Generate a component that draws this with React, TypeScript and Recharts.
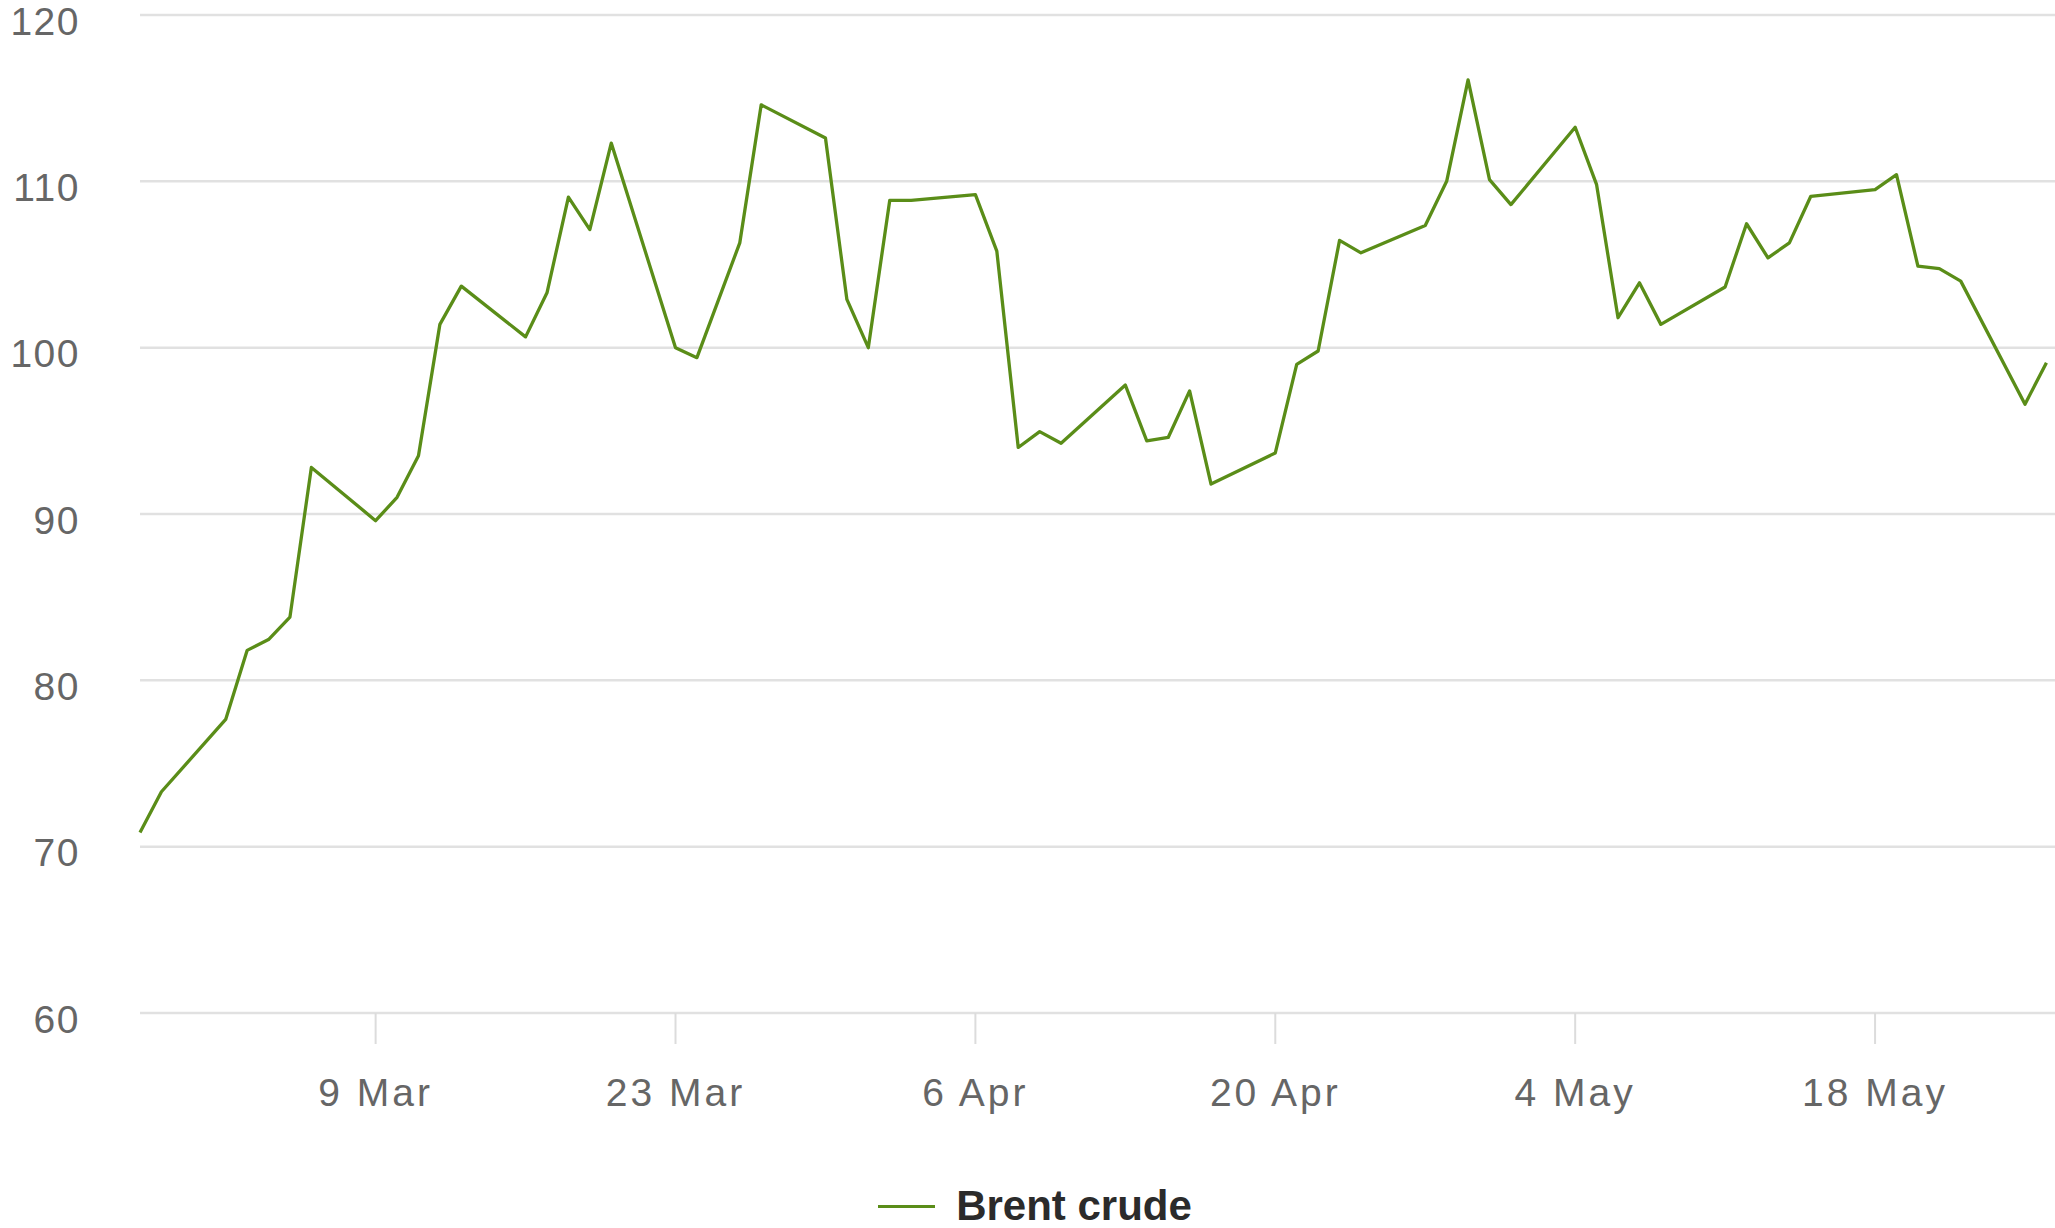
import { LineChart, Line, XAxis, YAxis, CartesianGrid, Legend } from "recharts";

const FONT = "'Liberation Sans', Arial, sans-serif";
const GREEN = "#5a8d18";

// trading days counted from Thu 26 Feb
const days = [
  0, 1, 4, 5, 6, 7, 8, 11, 12, 13, 14, 15, 18, 19, 20, 21, 22, 25, 26, 28, 29,
  32, 33, 34, 35, 36, 39, 40, 41, 42, 43, 46, 47, 48, 49, 50, 53, 54, 55, 56,
  57, 60, 61, 62, 63, 64, 67, 68, 69, 70, 71, 74, 75, 76, 77, 78, 81, 82, 83,
  84, 85, 88, 89,
];

// Brent crude, $ a barrel
const brent = [
  70.85, 73.3, 77.65, 81.8, 82.45, 83.8, 92.8, 89.6, 91.0, 93.5, 101.4, 103.7,
  100.65, 103.3, 109.05, 107.1, 112.3, 100.0, 99.4, 106.3, 114.6, 112.6, 102.9,
  100.0, 108.85, 108.85, 109.2, 105.8, 94.0, 94.95, 94.25, 97.75, 94.4, 94.6,
  97.4, 91.8, 93.67, 99.0, 99.8, 106.45, 105.7, 107.35, 110.0, 116.1, 110.1,
  108.6, 113.25, 109.8, 101.8, 103.9, 101.4, 103.65, 107.45, 105.4, 106.3,
  109.1, 109.5, 110.4, 104.9, 104.75, 104.0, 96.6, 99.1,
];

const tickDays = [11, 25, 39, 53, 67, 81];
const tickLabels = ["9 Mar", "23 Mar", "6 Apr", "20 Apr", "4 May", "18 May"];
const yTicks = [60, 70, 80, 90, 100, 110, 120];

const data = days.map((day, i) => ({ day, brent: brent[i] }));

const XTick = ({ x, y, payload }: any) => (
  <text
    x={x}
    y={y}
    dy={62}
    textAnchor="middle"
    fill="#666"
    fontSize={39}
    letterSpacing={3}
    fontFamily={FONT}
  >
    {tickLabels[tickDays.indexOf(payload.value)]}
  </text>
);

const YTick = ({ x, y, payload }: any) => (
  <text
    x={x}
    y={y}
    dy={19.5}
    textAnchor="end"
    fill="#666"
    fontSize={39}
    letterSpacing={1.5}
    fontFamily={FONT}
  >
    {payload.value}
  </text>
);

const LegendContent = () => (
  <div
    style={{
      display: "flex",
      justifyContent: "center",
      alignItems: "center",
      height: 44,
      paddingLeft: 15,
    }}
  >
    <span
      style={{ width: 57, height: 3, background: GREEN, marginRight: 21 }}
    />
    <span
      style={{
        fontSize: 42,
        fontWeight: 700,
        color: "#2b2b2b",
        lineHeight: "44px",
        fontFamily: FONT,
      }}
    >
      Brent crude
    </span>
  </div>
);

export default function App() {
  return (
    <div style={{ width: 2055, height: 1228, overflow: "hidden" }}>
      <style>{"body{margin:0;overflow:hidden;background:#fff}"}</style>
      <LineChart
        width={2055}
        height={1228}
        data={data}
        margin={{ top: 15, right: 0, bottom: 115, left: 0 }}
      >
        <CartesianGrid vertical={false} stroke="#e1e1e1" strokeWidth={2.5} />
        <XAxis
          type="number"
          dataKey="day"
          domain={[0, 89.4]}
          ticks={tickDays}
          interval={0}
          height={100}
          axisLine={false}
          tickLine={{ stroke: "#dcdcdc", strokeWidth: 2 }}
          tickSize={31}
          tickMargin={0}
          tick={<XTick />}
        />
        <YAxis
          domain={[60, 120]}
          ticks={yTicks}
          interval={0}
          width={140}
          axisLine={false}
          tickLine={false}
          tickSize={0}
          tickMargin={60}
          tick={<YTick />}
        />
        <Legend
          verticalAlign="middle"
          align="center"
          layout="horizontal"
          wrapperStyle={{ top: 1184, left: 0, width: 2055, height: 44 }}
          content={<LegendContent />}
        />
        <Line
          type="linear"
          dataKey="brent"
          name="Brent crude"
          stroke={GREEN}
          strokeWidth={3.3}
          strokeLinejoin="round"
          dot={false}
          activeDot={false}
          isAnimationActive={false}
        />
      </LineChart>
    </div>
  );
}
